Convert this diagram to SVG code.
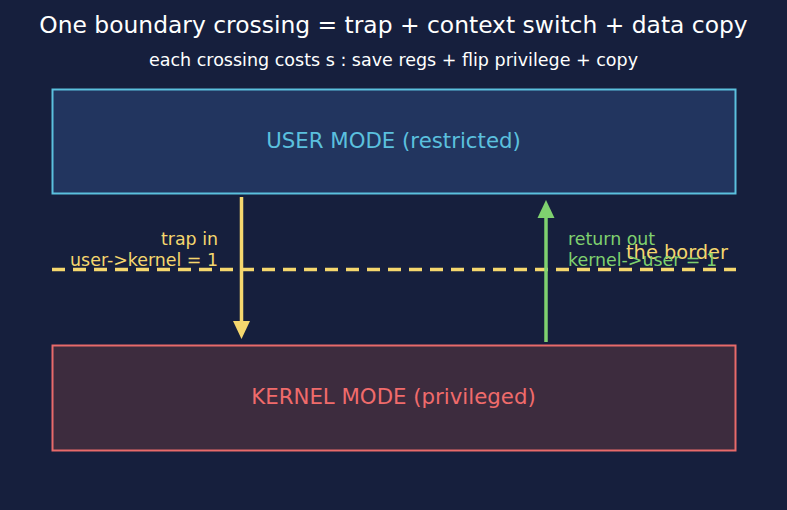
<svg xmlns="http://www.w3.org/2000/svg" width="787" height="510" viewBox="0 0 787 510">
<defs>
<style>
text{font-family:"DejaVu Sans","Liberation Sans",sans-serif}
.title{font-size:23.4px;fill:#ffffff}
.sub{font-size:17.5px;fill:#ffffff}
.lbl{font-size:17.4px}
.box{font-size:21.3px}
</style>
</defs>
<rect width="787" height="510" fill="#161f3d"/>
<text class="title" x="393.5" y="33" text-anchor="middle">One boundary crossing = trap + context switch + data copy</text>
<text class="sub" x="393.5" y="66" text-anchor="middle">each crossing costs s : save regs + flip privilege + copy</text>
<g id="user">
<rect x="52.5" y="89.5" width="683" height="104" fill="#22355f" stroke="#5bc0de" stroke-width="2"/>
<text class="box" x="393.5" y="148" text-anchor="middle" fill="#5bc0de">USER MODE (restricted)</text>
</g>
<g id="kernel">
<rect x="52.5" y="345.5" width="683" height="105" fill="#3d2c3e" stroke="#e86a6a" stroke-width="2"/>
<text class="box" x="393.5" y="404" text-anchor="middle" fill="#f06b6b">KERNEL MODE (privileged)</text>
</g>
<g id="border">
<line x1="52" y1="269.5" x2="736" y2="269.5" stroke="#f5d76e" stroke-width="3.5" stroke-dasharray="13,8"/>
<text x="728" y="259" text-anchor="end" fill="#f5d76e" style="font-size:19.4px">the border</text>
</g>
<g id="connectors">
<line x1="241.5" y1="197" x2="241.5" y2="326" stroke="#f5d76e" stroke-width="3.5"/>
<path d="M233,321 L250,321 L241.5,339 Z" fill="#f5d76e"/>
<line x1="546" y1="342" x2="546" y2="213" stroke="#7fd16f" stroke-width="3.5"/>
<path d="M537.5,218 L554.5,218 L546,200 Z" fill="#7fd16f"/>
<text class="lbl" x="218" y="245" text-anchor="end" fill="#f5d76e">trap in</text>
<text class="lbl" x="218" y="266" text-anchor="end" fill="#f5d76e">user-&gt;kernel = 1</text>
<text class="lbl" x="568" y="245" fill="#7fd16f">return out</text>
<text class="lbl" x="568" y="266" fill="#7fd16f">kernel-&gt;user = 1</text>
</g>
</svg>
